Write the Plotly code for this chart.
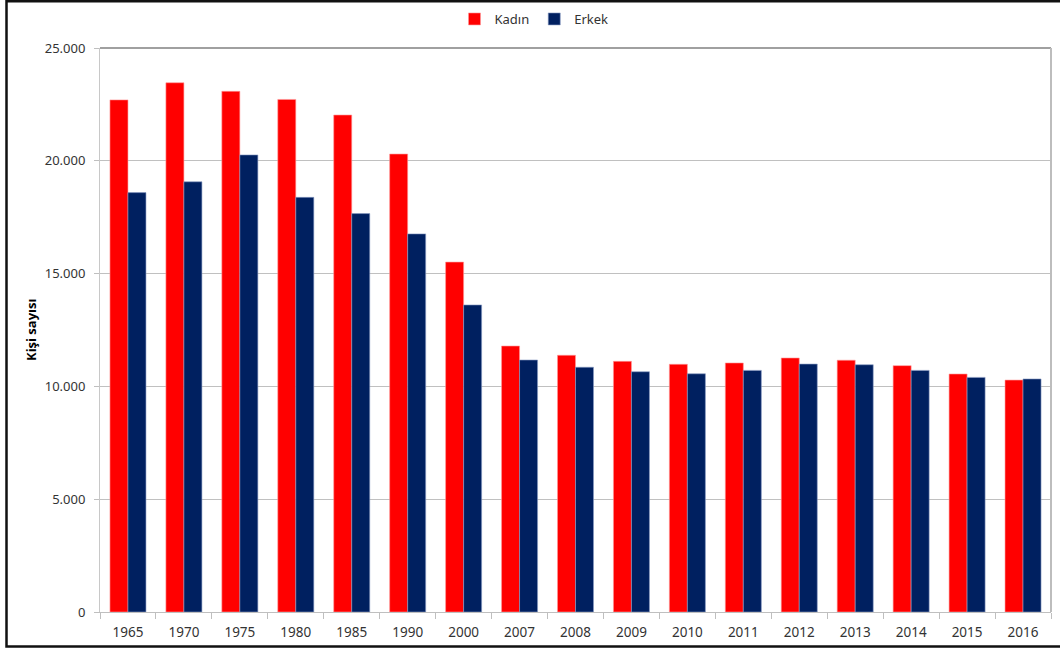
import plotly.graph_objects as go

# Yıllara göre kişi sayısı (kadın / erkek)
years = ["1965", "1970", "1975", "1980", "1985", "1990", "2000", "2007", "2008",
         "2009", "2010", "2011", "2012", "2013", "2014", "2015", "2016"]
kadin = [22700, 23460, 23080, 22720, 22030, 20300, 15510, 11790, 11380,
         11110, 10980, 11040, 11260, 11160, 10920, 10550, 10280]
erkek = [18590, 19070, 20260, 18380, 17660, 16760, 13610, 11170, 10850,
         10650, 10560, 10710, 10990, 10960, 10710, 10400, 10330]
y_ticks = [0, 5000, 10000, 15000, 20000, 25000]

L, R, T, B = 100, 9, 48, 38
W, H = 1060, 650
pw, ph = W - L - R, H - T - B


def px_x(p):
    return (p - L) / pw


def px_y(p):
    return (H - B - p) / ph


fig = go.Figure()
fig.add_trace(go.Bar(name="Kadın", x=years, y=kadin,
                     marker=dict(color="#FF0000", line=dict(color="#ff9a9a", width=0.6))))
fig.add_trace(go.Bar(name="Erkek", x=years, y=erkek,
                     marker=dict(color="#002060", line=dict(color="#8a9cc4", width=0.6))))

fig.update_layout(
    width=W, height=H,
    margin=dict(l=L, r=R, t=T, b=B, autoexpand=False),
    paper_bgcolor="white", plot_bgcolor="white",
    separators=",.",
    barmode="group", bargap=0.356, bargroupgap=0,
    font=dict(family="Noto Sans", size=13, color="#333333"),
    legend=dict(orientation="h", xref="container", yref="container",
                x=534 / W, xanchor="center", y=1 - 19 / H, yanchor="middle",
                font=dict(size=13, color="#333333"), itemwidth=30, tracegroupgap=0),
    xaxis=dict(type="category", showgrid=False, showline=True, linecolor="#bfbfbf",
               linewidth=1, ticks="outside", tickson="boundaries", ticklen=6,
               tickcolor="#bfbfbf", fixedrange=True, ticklabelstandoff=8,
               tickfont=dict(size=13.5)),
    yaxis=dict(range=[0, 25000], tickvals=y_ticks, tickformat=",d",
               showgrid=True, gridcolor="#c0c0c0", gridwidth=1, zeroline=False,
               showline=True, linecolor="#c8c8c8", linewidth=1,
               ticks="outside", ticklen=5, tickcolor="#bfbfbf",
               ticklabelstandoff=6),
    annotations=[dict(text="<b>Kişi sayısı</b>", textangle=-90, xref="paper", yref="paper",
                      x=px_x(31), y=0.5, xanchor="center", yanchor="middle",
                      showarrow=False, font=dict(size=13, color="#000000"))],
    shapes=[
        # top edge of the plot area
        dict(type="line", xref="paper", yref="paper", x0=0, x1=1, y0=1, y1=1,
             line=dict(color="#808080", width=1.5)),
        # right edge of the plot area
        dict(type="line", xref="paper", yref="paper", x0=1, x1=1, y0=0, y1=1,
             line=dict(color="#bdbdbd", width=2)),
        # outer frame of the chart
        dict(type="rect", xref="paper", yref="paper",
             x0=px_x(6.5), x1=px_x(1075), y0=px_y(646.5), y1=px_y(1.2),
             line=dict(color="#111111", width=2.5)),
    ],
)

fig.write_html("out.html")
